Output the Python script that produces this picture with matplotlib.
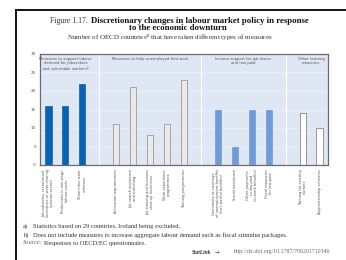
import matplotlib

matplotlib.use("Agg")
import matplotlib.pyplot as plt
from matplotlib.lines import Line2D

# values
positions = [0, 1, 2, 4, 5, 6, 7, 8, 10, 11, 12, 13, 15, 16]
values = [16, 16, 22, 11, 21, 8, 11, 23, 15, 5, 15, 15, 14, 10]
groups = [0, 0, 0, 1, 1, 1, 1, 1, 2, 2, 2, 2, 3, 3]
categories = [
    "Job subsidies, recruitment\nincentives or work-sharing\n(private sector)",
    "Reductions in non-wage\nlabour costs",
    "Short-time work\nschemes",
    "Activation requirements",
    "Job search assistance\nand matching",
    "Job training and business\nstart-up incentives",
    "Work experience\nprogrammes",
    "Training programmes",
    "Generosity or coverage\nof unemployment benefits\n(incl. partial benefits)",
    "Social assistance",
    "Other payments\nto low-paid\n(in-work benefits)",
    "Fiscal measures\nfor low-paid",
    "Training for existing\nworkers",
    "Apprenticeship schemes",
]
group_titles = [
    "Measures to support labour\ndemand for jobseekers\nand vulnerable workers$^b$",
    "Measures to help unemployed find work",
    "Income support for job losers\nand low paid",
    "Other training\nmeasures",
]
group_centers = [1, 6, 11.5, 15.5]
separators = [3, 9, 14]
yticks = [0, 5, 10, 15, 20, 25, 30]

face = ["#0a62b2", "#e9e9e9", "#6f9bd6", "#ffffff"]
edge = ["#0a62b2", "#8a8a8a", "#6f9bd6", "#707070"]

W, H = 346, 260
fig = plt.figure(figsize=(W / 100, H / 100), dpi=100)
serif = ["Liberation Serif", "DejaVu Serif"]


def px(x, y):
    return x / W, 1 - y / H


# frame of the page
fig.add_artist(Line2D([16 / W, 1], [1 - 10 / H, 1 - 10 / H], color="black", lw=1.3))
fig.add_artist(Line2D([16 / W, 16 / W], [0, 1 - 10 / H], color="black", lw=1.3))

# titles
fig.text(*px(50, 21), "Figure 1.17.", fontsize=5.6, family=serif, va="center", color="#333")
fig.text(*px(91, 21), "Discretionary changes in labour market policy in response",
         fontsize=6.3, family=serif, weight="bold", va="center", color="#111")
fig.text(*px(178, 27.5), "to the economic downturn", fontsize=6.3, family=serif,
         weight="bold", ha="center", va="center", color="#111")
fig.text(*px(170, 38), "Number of OECD countries$^a$ that have taken different types of measures",
         fontsize=5.0, family=serif, ha="center", va="center", color="#333")

ax = fig.add_axes([40 / W, 1 - 165 / H, 288 / W, 111 / H])
ax.set_facecolor("#dfe7f5")
ax.set_xlim(-0.5, 16.5)
ax.set_ylim(0, 30)
for y in yticks[1:-1]:
    ax.axhline(y, color="#eef2fa", lw=0.5, zorder=0)
for s in separators:
    ax.axvline(s, color="white", lw=0.8, zorder=0)

ax.bar(positions, values, width=0.36,
       color=[face[g] for g in groups], edgecolor=[edge[g] for g in groups],
       linewidth=0.5, zorder=2)

for c, t in zip(group_centers, group_titles):
    ax.text(c, 29.3, t, fontsize=2.7, ha="center", va="top", color="#555", linespacing=1.0)

ax.set_yticks(yticks)
ax.set_yticklabels([str(v) for v in yticks], fontsize=3, color="#555")
ax.set_xticks(positions)
ax.set_xticklabels(categories, rotation=90, fontsize=2.6, color="#555",
                   ha="center", va="top", linespacing=1.0)
ax.tick_params(axis="both", length=0, pad=3)
for sp in ax.spines.values():
    sp.set_color("#6b6b6b")
    sp.set_linewidth(0.9)

# footnotes
fn = dict(fontsize=4.7, family=serif, va="center", color="#333")
fig.text(*px(23, 226.5), "a)", **fn)
fig.text(*px(33, 226.5), "Statistics based on 29 countries, Iceland being excluded.", **fn)
fig.text(*px(23, 235), "b)", **fn)
fig.text(*px(33, 235),
         "Does not include measures to increase aggregate labour demand such as fiscal stimulus packages.",
         **fn)
fig.text(*px(23, 243), "Source:", fontsize=4.7, family=serif, style="italic", va="center", color="#666")
fig.text(*px(44, 243), "Responses to OECD/EC questionnaire.", **fn)
fig.text(*px(330, 252), "http://dx.doi.org/10.1787/706201710346", fontsize=4.2,
         family=serif, ha="right", va="center", color="#666")
fig.text(*px(211, 252), "StatLink", fontsize=4.0, family=serif, style="italic",
         weight="bold", ha="right", va="center", color="#333")
fig.text(*px(215, 252), "\u2192", fontsize=4.0, va="center", color="#444")

fig.savefig("out.png", dpi=100)
